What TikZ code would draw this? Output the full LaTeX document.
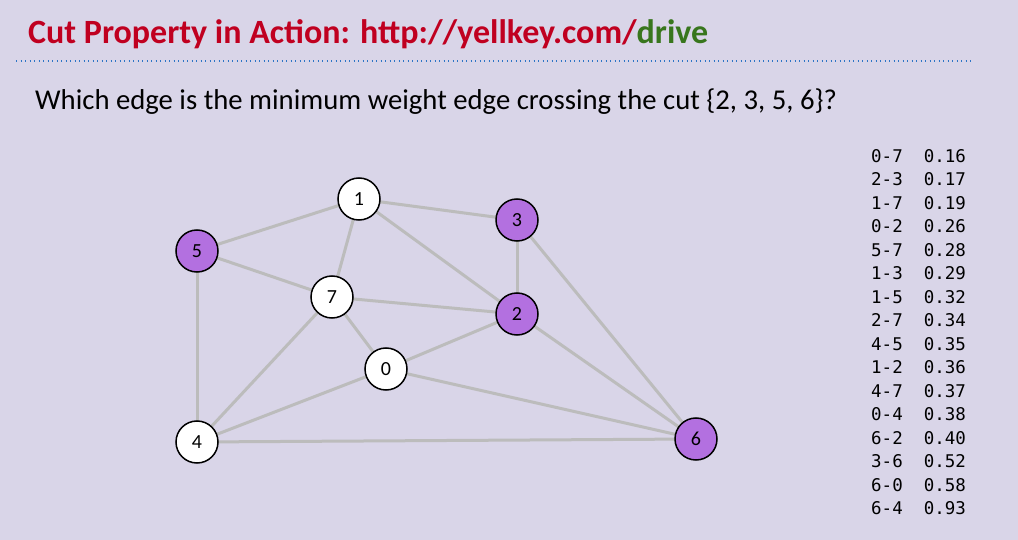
\documentclass[tikz,border=0pt]{standalone}
\usepackage{fontspec}
\setmainfont{Carlito}
\newfontfamily\tablefont{DejaVu Sans Mono}
\definecolor{bgc}{RGB}{217,213,232}
\definecolor{titlered}{RGB}{192,0,32}
\definecolor{titlegreen}{RGB}{56,118,29}
\definecolor{dotblue}{RGB}{46,117,198}
\definecolor{purp}{RGB}{179,112,224}
\definecolor{edgegray}{RGB}{188,188,188}
\pgfdeclarelayer{bglayer}
\pgfdeclarelayer{edgelayer}
\pgfsetlayers{bglayer,edgelayer,main}
\tikzset{
  vtx/.style={circle,draw=black,line width=1.5pt,minimum size=42pt,inner sep=0pt,font=\fontsize{20}{20}\selectfont},
  wvtx/.style={vtx,fill=white},
  pvtx/.style={vtx,fill=purp},
  edg/.style={draw=edgegray,line width=3pt}
}
\begin{document}
\begin{tikzpicture}[x=1pt,y=-1pt]
\begin{pgfonlayer}{bglayer}
\fill[bgc] (0,0) rectangle (1018,540);
\end{pgfonlayer}
\useasboundingbox (0,0) rectangle (1018,540);
\node[anchor=base west,inner sep=0pt,font=\fontsize{34}{34}\selectfont\bfseries] (title) at (28,44) {\textcolor{titlered}{Cut Property in Action: http://yellkey.com/}\textcolor{titlegreen}{drive}};
\coordinate (dl) at (16,61);
\coordinate (dr) at (972,61);
\draw[dotblue,line width=1.3pt,dash pattern=on 1.3pt off 3.2pt] (dl) -- (dr);
\node[anchor=base west,inner sep=0pt,font=\fontsize{28.7}{28.7}\selectfont] (question) at (35,110) {Which edge is the minimum weight edge crossing the cut \{2, 3, 5, 6\}?};
% nodes
\node[wvtx] (n1) at (359,199) {1};
\node[pvtx] (n3) at (517,220) {3};
\node[pvtx] (n5) at (197,251) {5};
\node[wvtx] (n7) at (332,297) {7};
\node[pvtx] (n2) at (517,314) {2};
\node[wvtx] (n0) at (386,369) {0};
\node[wvtx] (n4) at (197,442) {4};
\node[pvtx] (n6) at (696,439) {6};
\begin{pgfonlayer}{edgelayer}
\foreach \a/\b in {n0/n7,n2/n3,n1/n7,n0/n2,n5/n7,n1/n3,n1/n5,n2/n7,n4/n5,n1/n2,n4/n7,n0/n4,n6/n2,n3/n6,n6/n0,n6/n4}
  \draw[edg] (\a.center) -- (\b.center);
\end{pgfonlayer}
% table
\node[anchor=north west,inner sep=0pt,align=left,font=\tablefont\fontsize{17.5}{23.5}\selectfont] (tbl) at (871,149) {0-7\ \ 0.16\\2-3\ \ 0.17\\1-7\ \ 0.19\\0-2\ \ 0.26\\5-7\ \ 0.28\\1-3\ \ 0.29\\1-5\ \ 0.32\\2-7\ \ 0.34\\4-5\ \ 0.35\\1-2\ \ 0.36\\4-7\ \ 0.37\\0-4\ \ 0.38\\6-2\ \ 0.40\\3-6\ \ 0.52\\6-0\ \ 0.58\\6-4\ \ 0.93};
\end{tikzpicture}
\end{document}
